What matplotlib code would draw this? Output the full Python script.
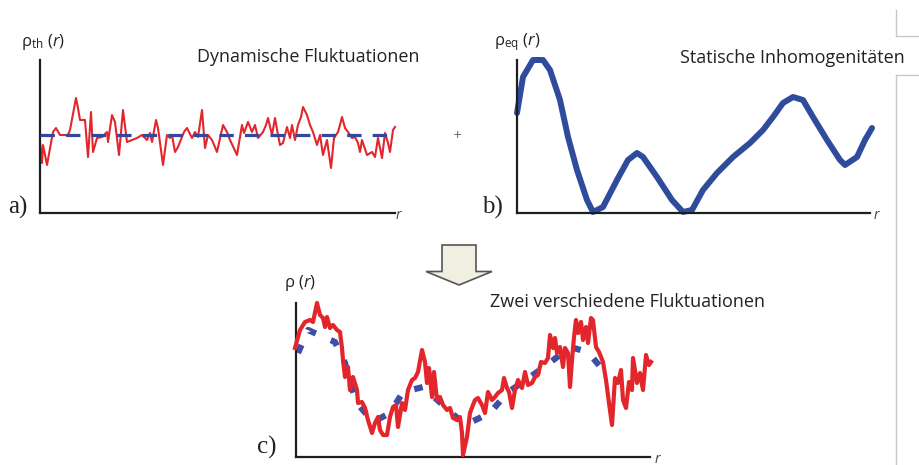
import matplotlib
matplotlib.use("Agg")
import matplotlib.pyplot as plt
from matplotlib.patches import FancyArrow
from matplotlib.lines import Line2D

# panel a) dynamic fluctuations (r, rho) in axis units
a_r = [0, 2, 3, 7, 13, 16, 20, 28, 30, 36, 38, 40, 45, 48, 51, 53, 57, 62, 67, 68,
       72, 75, 79, 83, 87, 92, 97, 102, 107, 110, 112, 116, 118, 123, 127, 130, 132,
       135, 138, 144, 147, 152, 155, 158, 162, 165, 168, 172, 177, 183, 187, 190, 197,
       202, 204, 208, 212, 215, 218, 223, 226, 228, 232, 235, 238, 240, 243, 247, 250,
       252, 255, 258, 261, 263, 267, 270, 273, 277, 280, 283, 287, 291, 294, 298, 300,
       302, 305, 308, 312, 315, 318, 320, 322, 327, 332, 335, 338, 342, 345, 348, 350,
       353, 355]
a_rho = [71, 50, 68, 48, 81, 85, 78, 78, 83, 115, 105, 93, 93, 56, 101, 61, 75, 76, 81, 71,
         98, 91, 58, 103, 71, 73, 75, 78, 73, 80, 71, 93, 85, 48, 78, 75, 78,
         61, 66, 81, 85, 75, 81, 76, 103, 65, 78, 73, 61, 88, 81, 73, 58,
         88, 80, 91, 81, 88, 75, 81, 88, 95, 78, 95, 78, 68, 70, 86, 75,
         88, 73, 88, 96, 106, 98, 88, 81, 68, 78, 58, 73, 45, 75, 81, 88,
         96, 85, 81, 75, 76, 70, 61, 73, 58, 61, 56, 75, 55, 80, 70, 61,
         83, 86]
a_mean = 78

# panel b) static inhomogeneities
b_r = [0, 6, 16, 26, 33, 43, 51, 60, 70, 76, 86, 100, 111, 120, 126, 140, 155, 166,
       175, 186, 200, 216, 233, 246, 256, 266, 276, 286, 296, 310, 323, 328, 340, 348, 355]
b_rho = [100, 136, 153, 153, 143, 113, 76, 43, 13, 1, 6, 33, 53, 60, 56, 36, 13, 1,
         3, 23, 40, 56, 70, 83, 96, 110, 116, 113, 96, 73, 53, 48, 56, 73, 85]

# panel c) both fluctuations
c_mean_r = [2, 12, 39, 49, 54, 61, 77, 94, 107, 127, 169, 194, 211, 234, 251, 274, 292, 307]
c_mean_rho = [104, 127, 115, 94, 74, 54, 35, 44, 65, 70, 32, 44, 64, 80, 92, 110, 105, 87]

c_r = [-1, 4, 9, 14, 17, 21, 24, 27, 29, 31,
       34, 37, 41, 44, 46, 47, 49, 52, 54, 57,
       61, 62, 66, 69, 72, 76, 79, 82, 84, 87,
       91, 94, 97, 100, 102, 106, 109, 112, 116, 119,
       122, 126, 129, 131, 133, 136, 138, 141, 144, 147,
       151, 154, 157, 161, 164, 166, 167, 171, 174, 177,
       179, 182, 186, 189, 192, 196, 199, 202, 206, 208,
       211, 213, 216, 219, 222, 226, 229, 232, 236, 239,
       242, 245, 249, 252, 254, 257, 259, 261, 264, 267,
       269, 272, 274, 276, 278, 280, 282, 285, 287, 290,
       292, 295, 297, 300, 303, 307, 310, 313, 316, 319,
       322, 325, 327, 330, 333, 336, 337, 341, 344, 347,
       350, 353, 355]
c_rho = [109, 127, 135, 137, 135, 154, 142, 139, 130, 140,
         129, 132, 127, 125, 109, 97, 80, 90, 67, 80,
         67, 54, 55, 49, 37, 24, 34, 40, 27, 22,
         22, 40, 50, 52, 30, 54, 47, 67, 77, 79,
         85, 107, 95, 74, 89, 60, 85, 57, 60, 52,
         47, 49, 39, 37, 40, 24, 2, 20, 44, 52,
         57, 59, 52, 44, 65, 57, 60, 64, 67, 79,
         69, 65, 49, 67, 77, 69, 85, 72, 74, 80,
         82, 95, 94, 99, 122, 109, 119, 104, 110, 90,
         109, 104, 70, 97, 120, 137, 124, 135, 117, 130,
         114, 139, 137, 110, 105, 95, 77, 54, 32, 79,
         74, 87, 57, 49, 75, 67, 99, 74, 84, 67,
         102, 92, 95]

W, H = 920, 465
RED = "#e3262b"
BLUE = "#2f4c9c"
AXIS = "#1e1e1e"
INK = "#222222"

plt.rcParams["mathtext.fontset"] = "custom"
plt.rcParams["mathtext.rm"] = "Open Sans"
plt.rcParams["mathtext.it"] = "Open Sans:italic"

fig = plt.figure(figsize=(W / 100, H / 100), dpi=100)
fig.patch.set_facecolor("white")


def add_panel(x0, y_bottom, w, h):
    ax = fig.add_axes([x0 / W, (H - y_bottom) / H, w / W, h / H])
    ax.set_xlim(0, w)
    ax.set_ylim(0, h)
    for side in ["top", "right"]:
        ax.spines[side].set_visible(False)
    for side in ["left", "bottom"]:
        ax.spines[side].set_linewidth(1.6)
        ax.spines[side].set_color(AXIS)
    ax.set_xticks([])
    ax.set_yticks([])
    ax.patch.set_alpha(0)
    return ax


def ftext(x, y, s, **kw):
    # figure text placed in pixel coordinates (top-left origin)
    fig.text(x / W, 1 - y / H, s, **kw)


# a)
ax_a = add_panel(40, 213, 355, 153)
ax_a.plot(a_r, a_rho, color=RED, lw=1.5, clip_on=False, zorder=2)
ax_a.plot([0, 353], [a_mean, a_mean], color="#34479a", lw=2.3,
          dashes=(4.5, 3.5), zorder=3)

# b)
ax_b = add_panel(517, 213, 353, 153)
ax_b.plot(b_r, b_rho, color=BLUE, lw=4.3, clip_on=False,
          solid_capstyle="round", solid_joinstyle="round")

# c)
ax_c = add_panel(296, 457, 354, 154)
ax_c.plot(c_mean_r, c_mean_rho, color="#3f4fa6", lw=4.5, dashes=(1.4, 2.6),
          clip_on=False, zorder=2)
ax_c.plot(c_r, c_rho, color=RED, lw=3.0, clip_on=False, zorder=3,
          solid_joinstyle="round")

# axis symbols
sym = dict(family="Open Sans", fontsize=12, color=INK, va="center")
ftext(21, 42, r"ρ$_{\mathrm{th}}$ ($\mathit{r}$)", **sym)
ftext(494, 42, r"ρ$_{\mathrm{eq}}$ ($\mathit{r}$)", **sym)
ftext(284, 283, r"ρ ($\mathit{r}$)", **sym)

# panel titles
lab_font = dict(family="Open Sans", fontsize=13, color=INK, va="baseline")
ftext(197, 62, "Dynamische Fluktuationen", **lab_font)
ftext(680, 63, "Statische Inhomogenitäten", **lab_font)
ftext(490, 307, "Zwei verschiedene Fluktuationen", **lab_font)

serif = dict(family="Liberation Serif", fontsize=18, color=INK, va="baseline")
ftext(8, 214, "a)", **serif)
ftext(482, 214, "b)", **serif)
ftext(257, 454, "c)", **serif)

rlab = dict(family="Open Sans", fontsize=10, style="italic", color="#444444",
            va="center")
ftext(396, 215, "r", **rlab)
ftext(874, 215, "r", **rlab)
ftext(655, 459, "r", **rlab)

ftext(453, 135, "+", fontsize=8, color="#555555", va="center")

# block arrow pointing down
arrow = FancyArrow(4.59, 2.20, 0, -0.40, width=0.34, head_width=0.66,
                   head_length=0.135, length_includes_head=True,
                   transform=fig.dpi_scale_trans, facecolor="#f0efe2",
                   edgecolor="#555555", linewidth=1.2)
fig.patches.append(arrow)

# grey frame lines at the right edge
frame = dict(color="#c8c8c8", lw=1.0, transform=fig.transFigure)
fig.lines.append(Line2D([896 / W, 896 / W], [1 - 10 / H, 1 - 36 / H], **frame))
fig.lines.append(Line2D([896 / W, 1], [1 - 36 / H, 1 - 36 / H], **frame))
fig.lines.append(Line2D([896 / W, 896 / W], [1 - 75 / H, 0], **frame))
fig.lines.append(Line2D([896 / W, 1], [1 - 75 / H, 1 - 75 / H], **frame))

fig.savefig("out.png", dpi=100)
